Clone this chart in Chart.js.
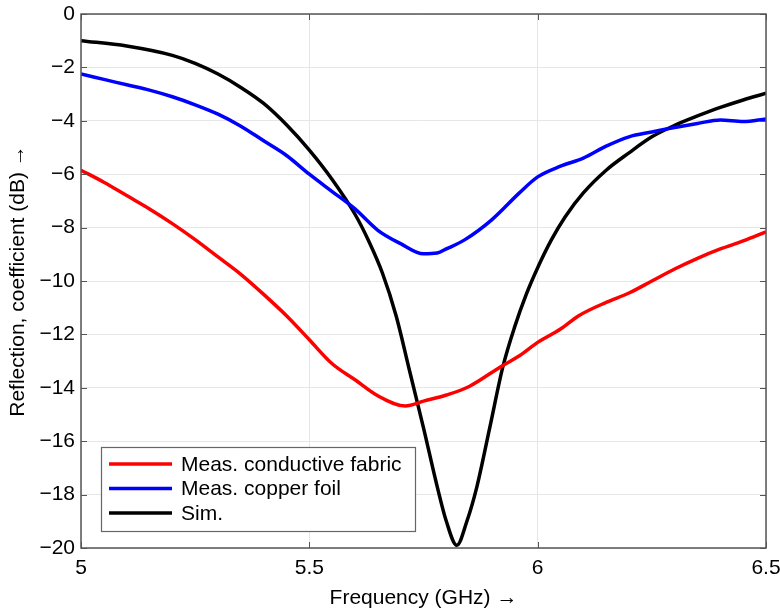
<!DOCTYPE html>
<html>
<head>
<meta charset="utf-8">
<script src="https://cdn.jsdelivr.net/npm/chart.js@4/dist/chart.umd.min.js"></script>
<style>
  html, body { margin: 0; padding: 0; background: #fff; }
  #wrap { width: 780px; height: 612px; }
</style>
</head>
<body>
<div id="wrap"><canvas id="myChart" width="780" height="612"></canvas></div>
<script>
// datos
const fabricFreq = [5.00, 5.05, 5.10, 5.15, 5.20, 5.25, 5.30, 5.35, 5.40, 5.45, 5.50, 5.55, 5.60, 5.65, 5.71, 5.75, 5.80, 5.85, 5.92, 5.96, 6.00, 6.05, 6.09, 6.15, 6.20, 6.25, 6.30, 6.35, 6.40, 6.45, 6.50];
const fabricDb = [-5.85, -6.3, -6.8, -7.3, -7.85, -8.45, -9.1, -9.75, -10.5, -11.3, -12.2, -13.1, -13.7, -14.3, -14.68, -14.5, -14.27, -13.95, -13.2, -12.8, -12.3, -11.8, -11.3, -10.8, -10.45, -10.0, -9.55, -9.15, -8.8, -8.5, -8.16];

const copperFreq = [5.00, 5.05, 5.10, 5.15, 5.20, 5.25, 5.30, 5.35, 5.40, 5.45, 5.50, 5.55, 5.60, 5.65, 5.70, 5.75, 5.78, 5.80, 5.84, 5.90, 5.96, 6.00, 6.05, 6.10, 6.15, 6.20, 6.25, 6.30, 6.35, 6.40, 6.45, 6.50];
const copperDb = [-2.25, -2.45, -2.65, -2.85, -3.1, -3.4, -3.75, -4.2, -4.75, -5.3, -6.0, -6.65, -7.3, -8.1, -8.6, -8.98, -8.95, -8.8, -8.46, -7.7, -6.7, -6.1, -5.7, -5.4, -4.95, -4.6, -4.42, -4.25, -4.1, -3.97, -4.03, -3.93];

const simFreq = [5.00, 5.10, 5.20, 5.25, 5.30, 5.35, 5.40, 5.45, 5.50, 5.55, 5.60, 5.63, 5.66, 5.69, 5.72, 5.75, 5.78, 5.80, 5.823, 5.845, 5.867, 5.895, 5.924, 5.95, 5.975, 6.00, 6.03, 6.06, 6.10, 6.15, 6.20, 6.25, 6.30, 6.35, 6.40, 6.45, 6.50];
const simDb = [-1.0, -1.2, -1.55, -1.85, -2.25, -2.75, -3.35, -4.15, -5.1, -6.2, -7.5, -8.5, -9.7, -11.3, -13.4, -15.5, -17.7, -19.0, -19.9, -19.0, -17.7, -15.5, -13.2, -11.7, -10.5, -9.5, -8.46, -7.6, -6.7, -5.85, -5.2, -4.6, -4.17, -3.82, -3.5, -3.22, -2.97];

const etiquetas = ["Meas. conductive fabric", "Meas. copper foil", "Sim."];
const colores = ["#ff0000", "#0000ff", "#000000"];
const xTicks = [5, 5.5, 6, 6.5];
const yTicks = [0, -2, -4, -6, -8, -10, -12, -14, -16, -18, -20];

const fuente = "'Liberation Sans', Arial, sans-serif";
const tamFuente = 21;

function puntos(xs, ys) {
  return xs.map((x, i) => ({ x: x, y: ys[i] }));
}

// marco, ticks internos y leyenda dentro del grafico
const marcoPlugin = {
  id: "marco",
  afterDatasetsDraw(chart) {
    const ctx = chart.ctx;
    const a = chart.chartArea;
    const xs = chart.scales.x, ys = chart.scales.y;
    ctx.save();
    ctx.strokeStyle = "#555";
    ctx.lineWidth = 1;
    ctx.beginPath();
    xTicks.forEach(t => {
      const px = Math.round(xs.getPixelForValue(t)) + 0.5;
      ctx.moveTo(px, a.bottom); ctx.lineTo(px, a.bottom - 6);
      ctx.moveTo(px, a.top); ctx.lineTo(px, a.top + 6);
    });
    yTicks.forEach(t => {
      const py = Math.round(ys.getPixelForValue(t)) + 0.5;
      ctx.moveTo(a.left, py); ctx.lineTo(a.left + 6, py);
      ctx.moveTo(a.right, py); ctx.lineTo(a.right - 6, py);
    });
    ctx.stroke();
    ctx.lineWidth = 1.5;
    ctx.strokeRect(a.left, a.top, a.right - a.left, a.bottom - a.top);

    // leyenda
    const lx = 101, ly = 447, lw = 314, lh = 84;
    ctx.fillStyle = "#fff";
    ctx.fillRect(lx, ly, lw, lh);
    ctx.strokeStyle = "#666";
    ctx.lineWidth = 1.2;
    ctx.strokeRect(lx + 0.5, ly + 0.5, lw, lh);
    ctx.font = tamFuente + "px " + fuente;
    ctx.textBaseline = "middle";
    etiquetas.forEach((txt, i) => {
      const yy = ly + 17 + i * 24.5;
      ctx.strokeStyle = colores[i];
      ctx.lineWidth = 3.5;
      ctx.beginPath();
      ctx.moveTo(lx + 8, yy);
      ctx.lineTo(lx + 71, yy);
      ctx.stroke();
      ctx.fillStyle = "#000";
      ctx.fillText(txt, lx + 80, yy + 1);
    });
    ctx.restore();
  }
};

const config = {
  type: "line",
  data: {
    datasets: [
      { label: etiquetas[0], data: puntos(fabricFreq, fabricDb), borderColor: colores[0] },
      { label: etiquetas[1], data: puntos(copperFreq, copperDb), borderColor: colores[1] },
      { label: etiquetas[2], data: puntos(simFreq, simDb), borderColor: colores[2] }
    ]
  },
  options: {
    responsive: false,
    animation: false,
    layout: { padding: { top: 14, right: 14, left: 0, bottom: 0 } },
    elements: {
      point: { radius: 0 },
      line: { borderWidth: 3.5, cubicInterpolationMode: "monotone", fill: false }
    },
    plugins: {
      legend: { display: false },
      tooltip: { enabled: false }
    },
    scales: {
      x: {
        type: "linear",
        min: 5, max: 6.5,
        afterBuildTicks: s => { s.ticks = xTicks.map(v => ({ value: v })); },
        afterFit: s => { s.height = 64; s.paddingLeft = 0; s.paddingRight = 0; },
        grid: { color: "#e6e6e6", drawTicks: false },
        border: { display: false },
        ticks: {
          padding: 8,
          color: "#000",
          font: { family: fuente, size: tamFuente },
          callback: v => String(v)
        },
        title: {
          display: true,
          text: "Frequency (GHz) \u2192",
          color: "#000",
          font: { family: fuente, size: tamFuente },
          padding: { top: 2, bottom: 1 }
        }
      },
      y: {
        min: -20, max: 0,
        afterBuildTicks: s => { s.ticks = yTicks.map(v => ({ value: v })); },
        afterFit: s => { s.width = 81; s.paddingTop = 0; s.paddingBottom = 0; },
        grid: { color: "#e6e6e6", drawTicks: false },
        border: { display: false },
        ticks: {
          padding: 6,
          color: "#000",
          font: { family: fuente, size: tamFuente },
          callback: v => String(v).replace("-", "\u2212")
        },
        title: {
          display: true,
          text: "Reflection, coefficient (dB) \u2192",
          color: "#000",
          font: { family: fuente, size: tamFuente },
          padding: { top: 6, bottom: 2 }
        }
      }
    }
  },
  plugins: [marcoPlugin]
};

new Chart(document.getElementById("myChart").getContext("2d"), config);
</script>
</body>
</html>
